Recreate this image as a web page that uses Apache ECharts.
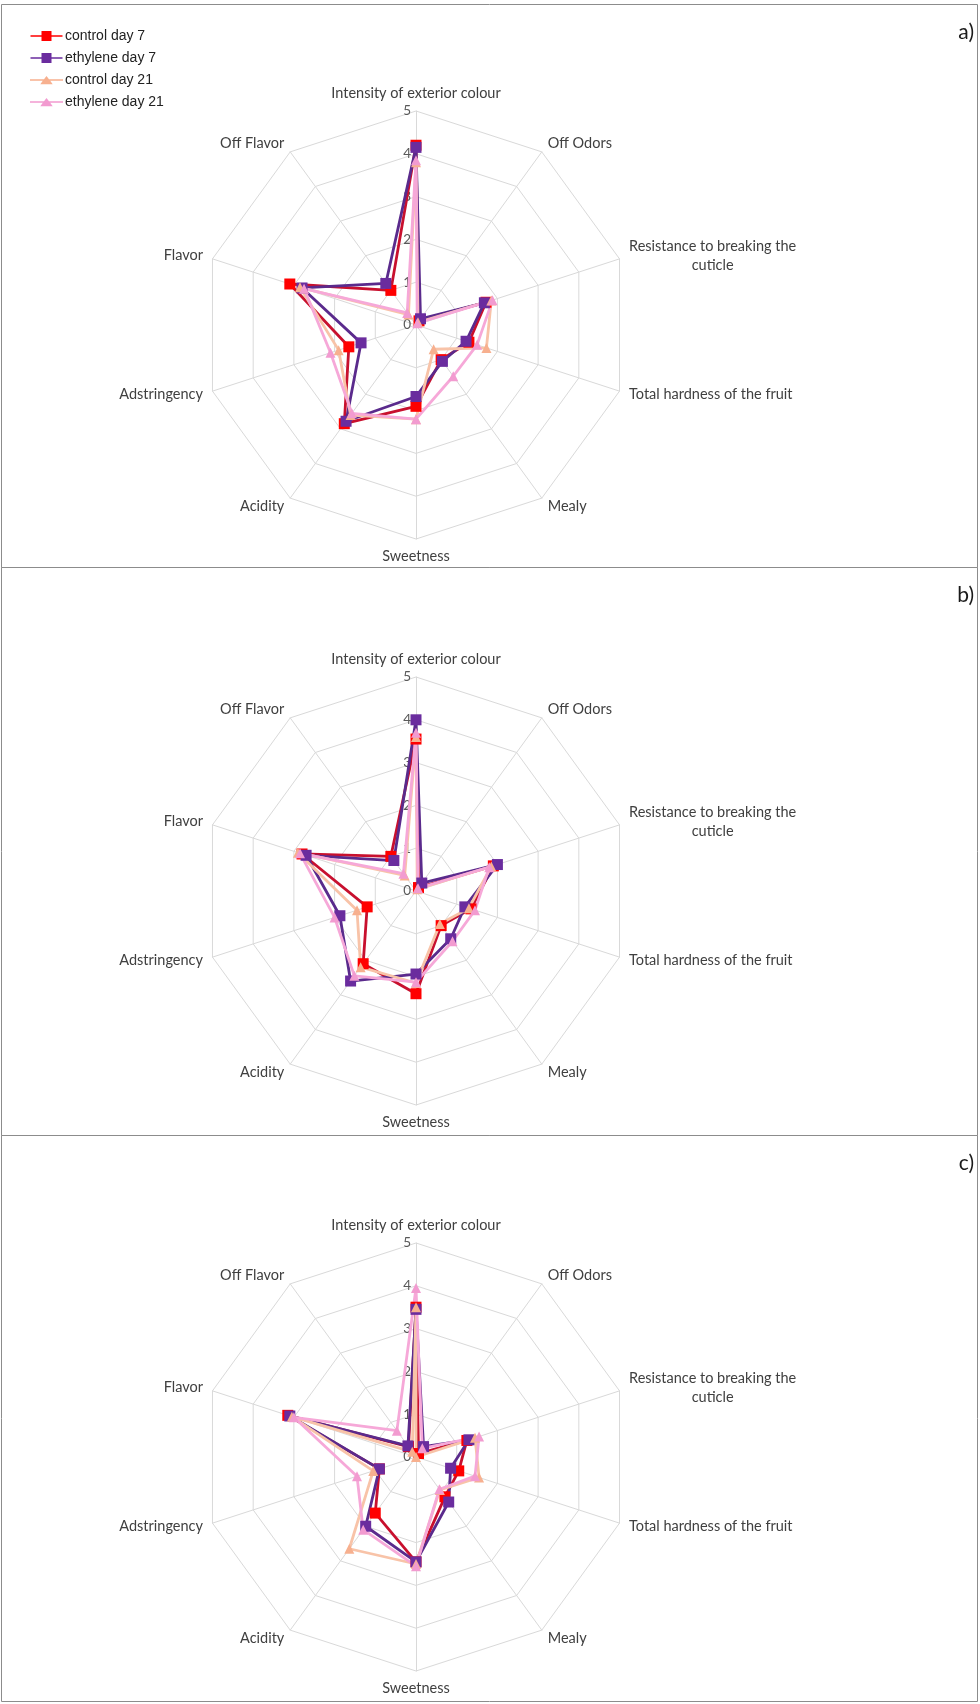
<!DOCTYPE html>
<html><head><meta charset="utf-8">
<script src="https://cdn.jsdelivr.net/npm/echarts@6/dist/echarts.min.js"></script>
<style>html,body{margin:0;padding:0;background:#fff}#c{width:980px;height:1704px}</style>
</head><body><div id="c"></div>
<script>
// Attributes in clockwise order starting at the top
const attributes = ["Intensity of exterior colour","Off Odors","Resistance to breaking the cuticle","Total hardness of the fruit","Mealy","Sweetness","Acidity","Adstringency","Flavor","Off Flavor"];
const seriesNames = ["control day 7","ethylene day 7","control day 21","ethylene day 21"];
const panelLabels = ["a)","b)","c)"];
const scaleMin = 0, scaleMax = 5, scaleStep = 1;

// panel a)
const a_control7   = [4.20, 0.12, 1.72, 1.30, 1.00, 1.90, 2.85, 1.65, 3.10, 1.00];
const a_ethylene7  = [4.15, 0.18, 1.68, 1.23, 1.05, 1.67, 2.78, 1.35, 2.80, 1.20];
const a_control21  = [3.80, 0.08, 1.85, 1.73, 0.70, 2.20, 2.60, 1.90, 2.85, 0.30];
const a_ethylene21 = [3.85, 0.05, 1.88, 1.50, 1.48, 2.20, 2.55, 2.10, 2.75, 0.35];
// panel b)
const b_control7   = [3.55, 0.10, 1.90, 1.35, 1.00, 2.40, 2.10, 1.20, 2.80, 1.00];
const b_ethylene7  = [4.00, 0.23, 2.00, 1.20, 1.38, 1.94, 2.60, 1.87, 2.70, 0.88];
const b_control21  = [3.60, 0.05, 1.85, 1.30, 0.95, 2.15, 2.20, 1.45, 2.90, 0.45];
const b_ethylene21 = [3.70, 0.08, 1.80, 1.45, 1.45, 2.13, 2.45, 2.00, 2.85, 0.50];
// panel c)
const c_control7   = [3.50, 0.10, 1.25, 1.05, 1.15, 2.45, 1.62, 0.90, 3.15, 0.30];
const c_ethylene7  = [3.45, 0.30, 1.30, 0.85, 1.30, 2.45, 2.00, 0.90, 3.10, 0.32];
const c_control21  = [3.50, 0.00, 1.45, 1.55, 0.95, 2.50, 2.65, 1.05, 3.05, 0.15];
const c_ethylene21 = [3.95, 0.25, 1.55, 1.45, 0.93, 2.55, 2.10, 1.45, 3.00, 0.76];

const panels = [
  [a_control7, a_ethylene7, a_control21, a_ethylene21],
  [b_control7, b_ethylene7, b_control21, b_ethylene21],
  [c_control7, c_ethylene7, c_control21, c_ethylene21]
];

const markerColors = ['#FF0000', '#6A2C9E', '#F7B08F', '#F29BD0'];
const lineColors   = ['#C8102E', '#5A2A8C', '#F8C3A8', '#F6A8D8'];
const symbols      = ['rect', 'rect', 'triangle', 'triangle'];
const symbolSizes  = [11, 11, 10, 10];

const FONT = 'Lato, "Open Sans", sans-serif';
const NAME_SIZE = 14.5;
const panelTops = [4.5, 567.5, 1135.5];
const panelH = [563, 568, 566];
const centersY = [325, 891, 1457];
const R = 214;

// ECharts places indicators counter-clockwise: reverse to get clockwise
const order = [0, 9, 8, 7, 6, 5, 4, 3, 2, 1];
const reorder = arr => order.map(i => arr[i]);

const indicators = order.map((i, k) => {
  const ind = { name: attributes[i], min: scaleMin, max: scaleMax };
  if (k === 0) ind.axisLabel = { show: true, color: '#595959', fontSize: 13.5, fontFamily: FONT, margin: 5, showMinLabel: true, showMaxLabel: true };
  return ind;
});

const radars = centersY.map(cy => ({
  center: [416, cy],
  radius: R,
  startAngle: 90,
  shape: 'polygon',
  splitNumber: 5,
  indicator: indicators,
  nameGap: 10,
  axisName: {
    color: '#404040', fontSize: NAME_SIZE, fontFamily: FONT,
    formatter: function (name) {
      if (name.indexOf('cuticle') >= 0) return '{l|Resistance to breaking the}\n{c|cuticle}';
      return name;
    },
    rich: {
      l: { color: '#404040', fontSize: NAME_SIZE, fontFamily: FONT, lineHeight: 19 },
      c: { color: '#404040', fontSize: NAME_SIZE, fontFamily: FONT, lineHeight: 19, align: 'center' }
    }
  },
  axisLine: { lineStyle: { color: '#D9D9D9', width: 1 } },
  splitLine: { lineStyle: { color: '#D9D9D9', width: 1 } },
  splitArea: { show: false },
  axisTick: { show: false },
  axisLabel: { show: false }
}));

const series = panels.map((vals, p) => ({
  type: 'radar',
  radarIndex: p,
  silent: true,
  data: seriesNames.map((n, s) => ({
    name: n,
    value: reorder(vals[s]),
    symbol: symbols[s],
    symbolSize: symbolSizes[s],
    itemStyle: { color: markerColors[s], opacity: 1 },
    lineStyle: { color: lineColors[s], width: 2.8 }
  }))
}));

const iconSquare = 'path://M0,4.2H11V0H21V4.2H32V5.8H21V10H11V5.8H0Z';
const iconTri = 'path://M0,4.2H13.6L16,1L18.4,4.2H32V5.8H19.6L22,9H10L12.4,5.8H0Z';

const graphics = [];
panelTops.forEach((t, p) => {
  graphics.push({ type: 'rect', shape: { x: 1.5, y: t, width: 976, height: panelH[p] }, style: { fill: null, stroke: '#8C8C8C', lineWidth: 1 }, silent: true });
  graphics.push({ type: 'text', x: 974, y: t + 28, style: { text: panelLabels[p], fill: '#1a1a1a', font: '21px ' + FONT, textAlign: 'right', textVerticalAlign: 'middle' }, silent: true });
});

const chart = echarts.init(document.getElementById('c'), null, { renderer: 'canvas' });
chart.setOption({
  animation: false,
  backgroundColor: '#fff',
  legend: {
    orient: 'vertical', left: 25, top: 24,
    itemWidth: 33, itemHeight: 10, itemGap: 8,
    selectedMode: false,
    textStyle: { fontFamily: '"Liberation Sans", Arial, sans-serif', fontSize: 14, color: '#222', padding: [0, 0, 0, -3] },
    data: seriesNames.map((n, s) => ({ name: n, icon: s < 2 ? iconSquare : iconTri, itemStyle: { color: markerColors[s] } }))
  },
  radar: radars,
  series: series,
  graphic: graphics
});
</script></body></html>
